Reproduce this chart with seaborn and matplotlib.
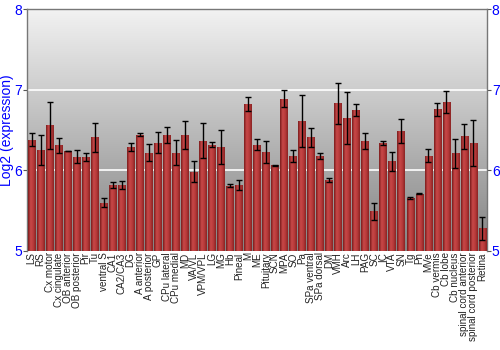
import numpy as np
import matplotlib
matplotlib.use("Agg")
import matplotlib.pyplot as plt
import seaborn as sns
from matplotlib.colors import LinearSegmentedColormap

regions = ["LS", "RS", "Cx motor", "Cx cingulate", "OB anterior", "OB posterior", "Pir", "Tu",
           "ventral S", "CA1", "CA2/CA3", "DG", "A anterior", "A posterior", "GP", "CPu lateral",
           "CPu medial", "MD", "VA/VL", "VPM/VPL", "LG", "MG", "Hb", "Pineal", "M", "ME",
           "Pituitary", "SCN", "MPA", "SO", "Pa", "SPa ventral", "SPa dorsal", "DM", "VMH", "Arc",
           "LH", "PAG", "SC", "IC", "VTA", "SN", "Tg", "Pn", "MVe", "Cb vermis", "Cb lobe",
           "Cb nucleus", "spinal cord anterior", "spinal cord posterior", "Retina"]
expression = [6.38, 6.25, 6.56, 6.31, 6.24, 6.17, 6.17, 6.41,
              5.60, 5.82, 5.82, 6.29, 6.44, 6.22, 6.34, 6.44,
              6.22, 6.44, 5.98, 6.37, 6.32, 6.29, 5.81, 5.82, 6.82, 6.32,
              6.23, 6.06, 6.89, 6.18, 6.61, 6.41, 6.18, 5.88, 6.83, 6.65,
              6.75, 6.36, 5.49, 6.34, 6.11, 6.49, 5.66, 5.71, 6.18, 6.76, 6.85,
              6.21, 6.42, 6.34, 5.28]
error = [0.08, 0.19, 0.29, 0.09, 0.005, 0.08, 0.05, 0.18,
         0.06, 0.035, 0.05, 0.05, 0.02, 0.11, 0.13, 0.10,
         0.16, 0.17, 0.13, 0.22, 0.035, 0.21, 0.015, 0.065, 0.09, 0.07,
         0.14, 0.01, 0.105, 0.075, 0.32, 0.12, 0.04, 0.02, 0.25, 0.32,
         0.07, 0.10, 0.11, 0.02, 0.12, 0.15, 0.01, 0.005, 0.08, 0.08, 0.14,
         0.18, 0.16, 0.29, 0.14]
yticks = [5, 6, 7, 8]

sns.set_style("white")
plt.rcParams['font.family'] = ['Liberation Sans', 'DejaVu Sans']

fig = plt.figure(figsize=(5, 3.5), dpi=100)
ax = fig.add_axes([0.054, 0.283, 0.92, 0.691])

sns.barplot(x=regions, y=expression, errorbar=None, color="#b33636",
            width=0.85, linewidth=0, ax=ax, zorder=3)
n = len(regions)

# background gradient
bg = LinearSegmentedColormap.from_list("bg", ["#838383", "#f2f2f2"])
grad = np.linspace(0, 1, 256).reshape(-1, 1)
ax.imshow(grad, aspect="auto", cmap=bg, origin="lower",
          extent=[-0.5, n - 0.5, 5, 8], zorder=0)

# bar gradient (darker edges)
barcm = LinearSegmentedColormap.from_list("bar", ["#7a1c1c", "#c84848", "#b83a3a", "#8a2424"])
hgrad = np.linspace(0, 1, 64).reshape(1, -1)
for p in list(ax.patches):
    x0 = p.get_x(); w = p.get_width(); h = p.get_height()
    im = ax.imshow(hgrad, aspect="auto", cmap=barcm,
                   extent=[x0, x0 + w, 5, h], zorder=3.5)
    im.set_clip_path(p)

ax.errorbar(np.arange(n), expression, yerr=error, fmt="none",
            ecolor="black", elinewidth=1, capsize=2, capthick=1, zorder=5)

for v in [6, 7]:
    ax.axhline(v, color="white", lw=1.2, zorder=1)

ax.set_ylim(5, 8)
ax.set_xlim(-0.5, n - 0.5)
ax.set_yticks(yticks)
ax.set_yticklabels([str(t) for t in yticks], color="blue", fontsize=10)
ax.tick_params(axis="y", which="both", left=True, right=True, labelleft=True,
               labelright=True, length=3, color="#555555", direction="out", pad=0.5)
ax.tick_params(axis="x", length=0, pad=1)
ax.set_xticks(range(n))
ax.set_xticklabels(regions, rotation=90, fontsize=7.1, color="#222222")
ax.set_ylabel("Log2 (expression)", color="blue", fontsize=10)
ax.yaxis.set_label_coords(-0.028, 0.5)
ax.set_xlabel("")

for s in ["top", "right", "left", "bottom"]:
    ax.spines[s].set_visible(True)
    ax.spines[s].set_color("#777777")
    ax.spines[s].set_linewidth(1)
ax.spines["bottom"].set_visible(False)

fig.savefig("out.png", dpi=100)
